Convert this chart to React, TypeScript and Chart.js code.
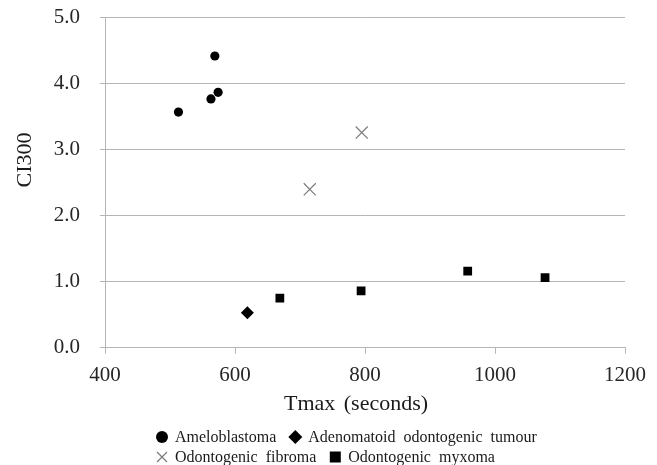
import React, { useEffect, useRef } from "react";
import { Chart, registerables } from "chart.js";

Chart.register(...registerables);

const ameloX = [513, 569, 563, 574];
const ameloY = [3.57, 4.42, 3.77, 3.87];
const adenoX = [619];
const adenoY = [0.53];
const fibromaX = [795, 715];
const fibromaY = [3.26, 2.4];
const myxomaX = [669, 794, 958, 1077];
const myxomaY = [0.75, 0.86, 1.16, 1.06];

const seriesNames = [
  "Ameloblastoma",
  "Adenomatoid odontogenic tumour",
  "Odontogenic fibroma",
  "Odontogenic myxoma",
];
const xTitle = "Tmax (seconds)";
const yTitle = "CI300";
const xMin = 400;
const xMax = 1200;
const xStep = 200;
const yMin = 0;
const yMax = 5;
const yStep = 1;

const FONT = '"Liberation Serif", "Times New Roman", serif';
const GRID = "#b5b5b5";

const zip = (xs: number[], ys: number[]) => xs.map((x, i) => ({ x, y: ys[i] }));

function drawMarker(ctx: CanvasRenderingContext2D, kind: string, x: number, y: number, s: number) {
  ctx.save();
  ctx.fillStyle = "#000";
  ctx.strokeStyle = "#000";
  if (kind === "circle") {
    ctx.beginPath();
    ctx.arc(x, y, s, 0, Math.PI * 2);
    ctx.fill();
  } else if (kind === "diamond") {
    ctx.beginPath();
    ctx.moveTo(x, y - s);
    ctx.lineTo(x + s, y);
    ctx.lineTo(x, y + s);
    ctx.lineTo(x - s, y);
    ctx.closePath();
    ctx.fill();
  } else if (kind === "square") {
    ctx.fillRect(x - s, y - s, 2 * s, 2 * s);
  } else if (kind === "cross") {
    ctx.strokeStyle = "#7a7a7a";
    ctx.lineWidth = 1.2;
    ctx.beginPath();
    ctx.moveTo(x - s, y - s);
    ctx.lineTo(x + s, y + s);
    ctx.moveTo(x + s, y - s);
    ctx.lineTo(x - s, y + s);
    ctx.stroke();
  }
  ctx.restore();
}

const textPlugin = {
  id: "customText",
  afterDraw(chart: any) {
    const ctx: CanvasRenderingContext2D = chart.ctx;
    ctx.save();
    ctx.fillStyle = "#1a1a1a";
    // y title
    ctx.font = `22px ${FONT}`;
    ctx.textAlign = "center";
    ctx.textBaseline = "middle";
    ctx.save();
    ctx.translate(25, 160);
    ctx.rotate(-Math.PI / 2);
    ctx.fillText(yTitle, 0, 0);
    ctx.restore();
    // x title
    ctx.font = `22px ${FONT}`;
    (ctx as any).wordSpacing = "3px";
    ctx.fillText(xTitle, 356, 404);
    // legend
    ctx.font = `16px ${FONT}`;
    (ctx as any).wordSpacing = "4px";
    ctx.textAlign = "left";
    const rows = [
      [
        { kind: "circle", size: 6, name: seriesNames[0] },
        { kind: "diamond", size: 7, name: seriesNames[1] },
      ],
      [
        { kind: "cross", size: 5, name: seriesNames[2] },
        { kind: "square", size: 5.5, name: seriesNames[3] },
      ],
    ];
    const rowY = [437, 457];
    rows.forEach((row, r) => {
      let x = 162;
      row.forEach((item) => {
        drawMarker(ctx, item.kind, x, rowY[r], item.size);
        const tx = x + 13;
        ctx.fillText(item.name, tx, rowY[r] + 1);
        const w = ctx.measureText(item.name).width;
        x = tx + w + 19;
      });
    });
    ctx.restore();
  },
};

export default function App() {
  const ref = useRef<HTMLCanvasElement>(null);
  useEffect(() => {
    if (!ref.current) return;
    const chart = new Chart(ref.current, {
      type: "scatter",
      data: {
        datasets: [
          {
            label: seriesNames[0],
            data: zip(ameloX, ameloY),
            pointStyle: "circle",
            pointRadius: 4.6,
            backgroundColor: "#000",
            borderColor: "#000",
            borderWidth: 0,
          },
          {
            label: seriesNames[1],
            data: zip(adenoX, adenoY),
            pointStyle: "rectRot",
            pointRadius: 6.5,
            backgroundColor: "#000",
            borderColor: "#000",
            borderWidth: 0,
          },
          {
            label: seriesNames[2],
            data: zip(fibromaX, fibromaY),
            pointStyle: "crossRot",
            pointRadius: 8.5,
            backgroundColor: "#7a7a7a",
            borderColor: "#7a7a7a",
            borderWidth: 1.2,
          },
          {
            label: seriesNames[3],
            data: zip(myxomaX, myxomaY),
            pointStyle: "rect",
            pointRadius: 6.2,
            backgroundColor: "#000",
            borderColor: "#000",
            borderWidth: 0,
          },
        ],
      },
      options: {
        animation: false,
        responsive: false,
        maintainAspectRatio: false,
        layout: { padding: { left: 0, right: 32, top: 17.7, bottom: 45 } },
        plugins: {
          legend: { display: false },
          tooltip: { enabled: false },
        },
        scales: {
          x: {
            type: "linear",
            min: xMin,
            max: xMax,
            ticks: {
              stepSize: xStep,
              font: { family: FONT, size: 21 },
              color: "#262626",
              padding: 9,
              callback: (v: any) => String(v),
            },
            grid: { drawOnChartArea: false, drawTicks: true, tickLength: 6, color: GRID, lineWidth: 1 },
            border: { display: true, color: GRID, width: 1 },
            afterFit(scale: any) {
              scale.height = 72.3;
              scale.paddingLeft = 0;
              scale.paddingRight = 0;
            },
          },
          y: {
            type: "linear",
            min: yMin,
            max: yMax,
            ticks: {
              stepSize: yStep,
              font: { family: FONT, size: 21 },
              color: "#262626",
              padding: 20,
              callback: (v: any) => Number(v).toFixed(1),
            },
            grid: { drawOnChartArea: true, drawTicks: true, tickLength: 5, color: GRID, lineWidth: 1 },
            border: { display: true, color: GRID, width: 1 },
            afterFit(scale: any) {
              scale.width = 105;
              scale.paddingTop = 0;
              scale.paddingBottom = 0;
            },
          },
        },
      },
      plugins: [textPlugin],
    });
    return () => chart.destroy();
  }, []);
  return (
    <div style={{ position: "fixed", left: 0, top: 0, width: 657, height: 465, background: "#fff" }}>
      <canvas ref={ref} width={657} height={465} style={{ display: "block" }} />
    </div>
  );
}
